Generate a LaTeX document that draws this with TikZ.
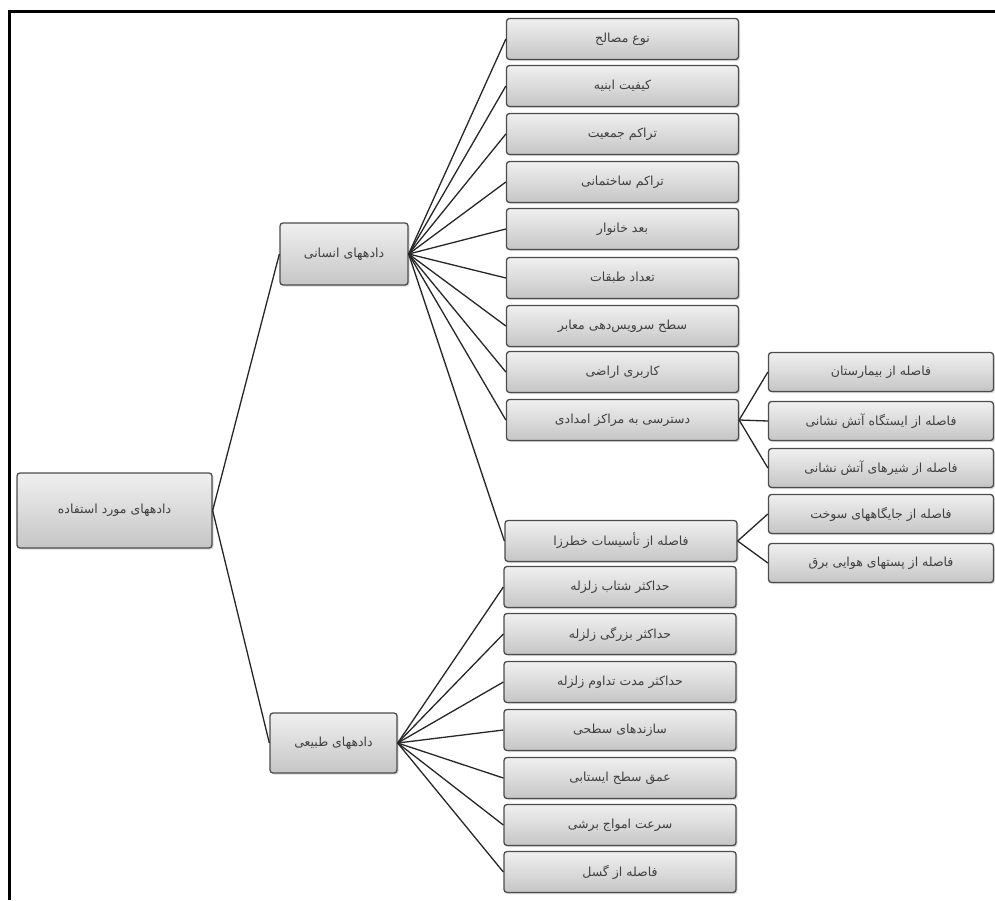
\documentclass[tikz,border=0pt]{standalone}
\usepackage{fontspec}
\newfontfamily\farsi[Script=Arabic]{DejaVu Sans}
\TeXXeTstate=1
\usetikzlibrary{positioning,shadows}

\tikzset{
    databox/.style={draw=black!70, line width=1.3pt, rounded corners=3pt,
        top color=gray!12, bottom color=gray!45, inner sep=0pt,
        drop shadow={shadow xshift=1.5pt, shadow yshift=-1.5pt, fill=gray!60},
        font=\farsi\fontsize{12.5}{14}\selectfont, text=black!75},
    leafbox/.style={databox, minimum width=232pt, minimum height=41pt},
    subbox/.style={databox, minimum width=225pt, minimum height=39pt},
    link/.style={line width=1.3pt, black!85}
}
\newcommand{\fa}[1]{\beginR #1\endR}

\begin{document}
\begin{tikzpicture}[x=1pt, y=-1pt]

    \useasboundingbox (0,0) rectangle (995,900);
    \draw[line width=3pt] (9,900) -- (9,11) -- (995,11);

    % root and the two groups
    \node (root) [databox, minimum width=195pt, minimum height=75pt] at (114.5,510.5) {\fa{دادههای مورد استفاده}};
    \node (human) [databox, minimum width=128pt, minimum height=62pt] at (344,254) {\fa{دادههای انسانی}};
    \node (nature) [databox, minimum width=127pt, minimum height=60pt] at (333.5,743) {\fa{دادههای طبیعی}};

    % human data
    \node (h1) [leafbox] at (622.5,39) {\fa{نوع مصالح}};
    \node (h2) [leafbox] at (622.5,86) {\fa{کیفیت ابنیه}};
    \node (h3) [leafbox] at (622.5,134) {\fa{تراکم جمعیت}};
    \node (h4) [leafbox] at (622.5,182) {\fa{تراکم ساختمانی}};
    \node (h5) [leafbox] at (622.5,229) {\fa{بعد خانوار}};
    \node (h6) [leafbox] at (622.5,278) {\fa{تعداد طبقات}};
    \node (h7) [leafbox] at (622.5,326) {\fa{سطح سرویس‌دهی معابر}};
    \node (h8) [leafbox] at (622.5,372) {\fa{کاربری اراضی}};
    \node (h9) [leafbox] at (622.5,420) {\fa{دسترسی به مراکز امدادی}};
    \node (h10) [leafbox] at (621,541) {\fa{فاصله از تأسیسات خطرزا}};

    % relief centres and hazards
    \node (s1) [subbox] at (881,372) {\fa{فاصله از بیمارستان}};
    \node (s2) [subbox] at (881,421) {\fa{فاصله از ایستگاه آتش نشانی}};
    \node (s3) [subbox] at (881,468) {\fa{فاصله از شیرهای آتش نشانی}};
    \node (s4) [subbox] at (881,514) {\fa{فاصله از جایگاههای سوخت}};
    \node (s5) [subbox] at (881,563) {\fa{فاصله از پستهای هوایی برق}};

    % natural data
    \node (n1) [leafbox] at (620,587) {\fa{حداکثر شتاب زلزله}};
    \node (n2) [leafbox] at (620,634) {\fa{حداکثر بزرگی زلزله}};
    \node (n3) [leafbox] at (620,682) {\fa{حداکثر مدت تداوم زلزله}};
    \node (n4) [leafbox] at (620,730) {\fa{سازندهای سطحی}};
    \node (n5) [leafbox] at (620,778) {\fa{عمق سطح ایستابی}};
    \node (n6) [leafbox] at (620,825) {\fa{سرعت امواج برشی}};
    \node (n7) [leafbox] at (620,872) {\fa{فاصله از گسل}};

    \path[link] (root.east) edge (human.west);
    \path[link] (root.east) edge (nature.west);

    \path[link] (human.east) edge (h1.west);
    \path[link] (human.east) edge (h2.west);
    \path[link] (human.east) edge (h3.west);
    \path[link] (human.east) edge (h4.west);
    \path[link] (human.east) edge (h5.west);
    \path[link] (human.east) edge (h6.west);
    \path[link] (human.east) edge (h7.west);
    \path[link] (human.east) edge (h8.west);
    \path[link] (human.east) edge (h9.west);
    \path[link] (human.east) edge (h10.west);

    \path[link] (h9.east) edge (s1.west);
    \path[link] (h9.east) edge (s2.west);
    \path[link] (h9.east) edge (s3.west);
    \path[link] (h10.east) edge (s4.west);
    \path[link] (h10.east) edge (s5.west);

    \path[link] (nature.east) edge (n1.west);
    \path[link] (nature.east) edge (n2.west);
    \path[link] (nature.east) edge (n3.west);
    \path[link] (nature.east) edge (n4.west);
    \path[link] (nature.east) edge (n5.west);
    \path[link] (nature.east) edge (n6.west);
    \path[link] (nature.east) edge (n7.west);

\end{tikzpicture}
\end{document}
